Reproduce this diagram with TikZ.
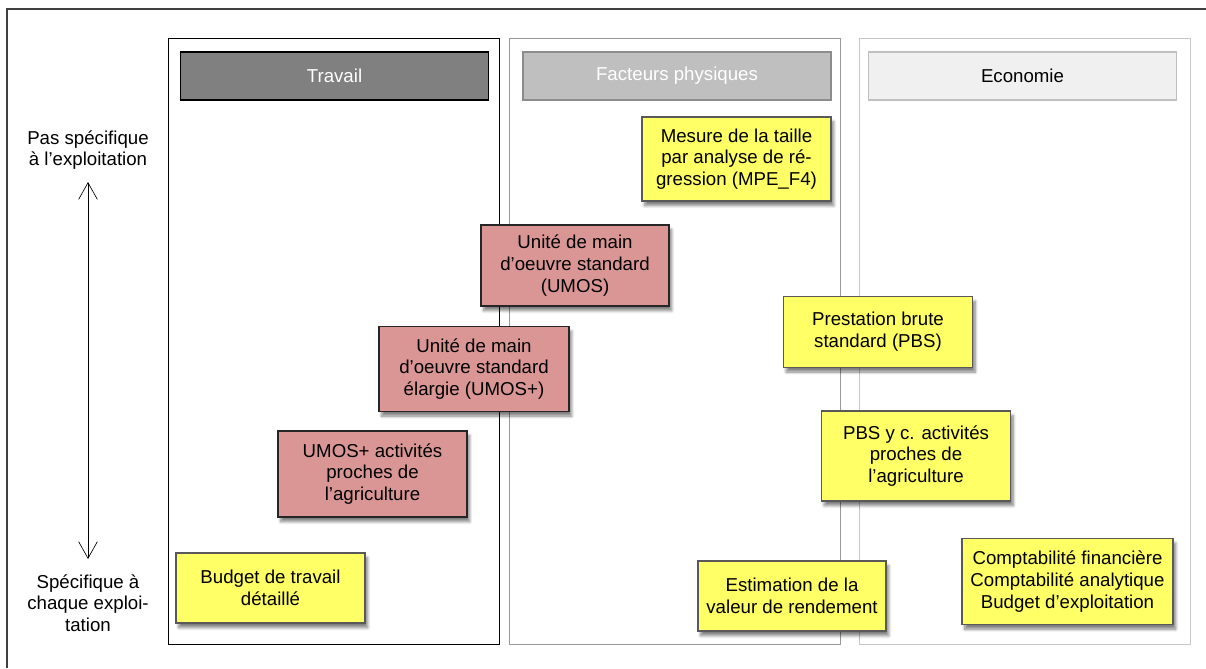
\documentclass[tikz,border=0pt]{standalone}
\usepackage{fontspec}
\setmainfont{Liberation Sans}
\usetikzlibrary{arrows.meta,shadows.blur}
\definecolor{jaune}{HTML}{FFFF66}
\definecolor{rose}{HTML}{D99694}
\begin{document}
\begin{tikzpicture}[x=0.75pt,y=-0.75pt,
    font=\fontsize{14}{16.3}\selectfont,
    boite/.style={draw, line width=1pt, align=center, inner sep=0pt,
        blur shadow={shadow xshift=2pt, shadow yshift=-3.5pt, shadow blur steps=8, shadow opacity=50}},
    jaunebox/.style={boite, fill=jaune, draw=black!65},
    rosebox/.style={boite, fill=rose, draw=black!85},
    entete/.style={draw, line width=1.2pt, minimum width=231pt, minimum height=36pt, inner sep=0pt}]
    % \helpgrid
    \useasboundingbox (0,0) rectangle (1206,668);
    \draw[black!75, line width=0.9pt] (7,668) -- (7,9) -- (1206,9);
    % colonnes
    \draw[black, line width=0.7pt] (168,38) rectangle (499,644);
    \draw[black!40, line width=0.7pt] (509,38) rectangle (840,644);
    \draw[black!22, line width=0.7pt] (859,38) rectangle (1190,644);
    \node[entete, fill=black!50, draw=black, text=white] (travail) at (334.5,76) {Travail};
    \node[entete, fill=black!25, draw=black!45, text=white] (physique) at (677,76) {Facteurs physiques};
    \node[entete, fill=black!6, draw=black!25] (economie) at (1022.5,76) {Economie};
    % axe
    \node[align=center] (haut) at (88,150) {Pas spécifique\\à l’exploitation};
    \node[align=center] (bas) at (88,603) {Spécifique à\\chaque exploi-\\tation};
    \coordinate (fhaut) at (88,182);
    \coordinate (fbas) at (88,559);
    \draw[{Straight Barb[length=12.5pt,width=14pt]}-{Straight Barb[length=12.5pt,width=14pt]}, line width=0.5pt] (fhaut) -- (fbas);
    % boites
    \node[jaunebox, minimum width=141.75pt, minimum height=63pt] (mpe) at (736.5,159) {Mesure de la taille\\par analyse de ré-\\gression (MPE\_F4)};
    \node[rosebox, minimum width=141pt, minimum height=60.75pt] (umos) at (575,265.5) {Unité de main\\d’oeuvre standard\\(UMOS)};
    \node[rosebox, minimum width=142.5pt, minimum height=63.75pt] (umosplus) at (474,369) {Unité de main\\d’oeuvre standard\\élargie (UMOS+)};
    \node[rosebox, minimum width=141.75pt, minimum height=64.5pt] (umosact) at (372.5,474) {UMOS+ activités\\proches de\\l’agriculture};
    \node[jaunebox, minimum width=141.75pt, minimum height=52.5pt] (budget) at (270.5,588) {Budget de travail\\détaillé};
    \node[jaunebox, minimum width=141.75pt, minimum height=53pt] (pbs) at (878,332) {Prestation brute\\standard (PBS)};
    \node[jaunebox, minimum width=141.75pt, minimum height=67.5pt] (pbsact) at (916,456) {PBS y c. activités\\proches de\\l’agriculture};
    \node[jaunebox, minimum width=141pt, minimum height=52.5pt] (estim) at (792,596) {Estimation de la\\valeur de rendement};
    \node[jaunebox, minimum width=158.25pt, minimum height=64.5pt] (compta) at (1067.5,581.5) {Comptabilité financière\\Comptabilité analytique\\Budget d’exploitation};
\end{tikzpicture}
\end{document}
